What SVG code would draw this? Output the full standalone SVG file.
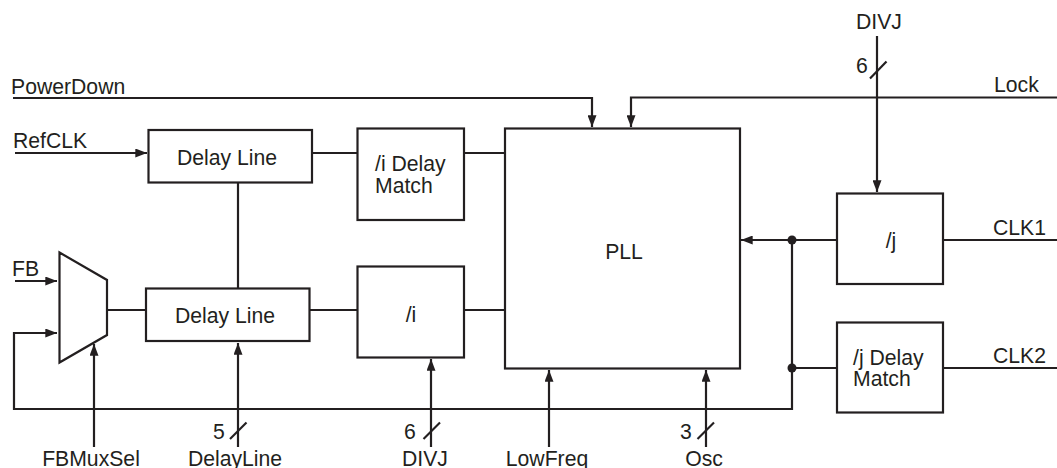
<svg xmlns="http://www.w3.org/2000/svg" width="1057" height="468" viewBox="0 0 1057 468">
<style>
.ln{fill:none;stroke:#231f20;stroke-width:2.2}
.bx{fill:#fff;stroke:#231f20;stroke-width:2.2}
.t{font-family:"Liberation Sans",Arial,sans-serif;font-size:21.2px;fill:#231f20}
.m{text-anchor:middle}
.dot{fill:#231f20}
</style>
<defs>
<marker id="ah" viewBox="0 0 13 10" refX="13" refY="5" markerWidth="13" markerHeight="9" markerUnits="userSpaceOnUse" orient="auto">
<path d="M0,0 L13,5 L0,10 Z" fill="#231f20"/>
</marker>
</defs>
<rect width="1057" height="468" fill="#fff"/>
<g id="connectors">
<path class="ln" d="M13,98 H592 V127" marker-end="url(#ah)"/>
<path class="ln" d="M1057,97.5 H631 V127" marker-end="url(#ah)"/>
<path class="ln" d="M877,36 V192" marker-end="url(#ah)"/>
<path class="ln" d="M870,78.5 L886.5,61.5"/>
<path class="ln" d="M943,240 H1057"/>
<path class="ln" d="M837,240 H741" marker-end="url(#ah)"/>
<path class="ln" d="M792,240 V409 H14 V333 H57" marker-end="url(#ah)"/>
<path class="ln" d="M792,368 H837"/>
<path class="ln" d="M943,368 H1057"/>
<circle class="dot" cx="792" cy="240" r="4.5"/>
<circle class="dot" cx="792" cy="368" r="4.5"/>
<path class="ln" d="M15,153 H147" marker-end="url(#ah)"/>
<path class="ln" d="M312,153 H357"/>
<path class="ln" d="M464,153 H505"/>
<path class="ln" d="M238,183 V288"/>
<path class="ln" d="M15,281 H57" marker-end="url(#ah)"/>
<path class="ln" d="M107,310 H146"/>
<path class="ln" d="M309,310 H357"/>
<path class="ln" d="M464,310 H505"/>
<path class="ln" d="M94,447 V344" marker-end="url(#ah)"/>
<path class="ln" d="M238,447 V343" marker-end="url(#ah)"/>
<path class="ln" d="M230,439 L246.5,422.5"/>
<path class="ln" d="M431,447 V359" marker-end="url(#ah)"/>
<path class="ln" d="M423.5,439 L440,422.5"/>
<path class="ln" d="M549,447 V370" marker-end="url(#ah)"/>
<path class="ln" d="M706,447 V370" marker-end="url(#ah)"/>
<path class="ln" d="M697.5,439 L714,422.5"/>
</g>
<g id="labels">
<text class="t" x="11" y="94">PowerDown</text>
<text class="t" x="13" y="148">RefCLK</text>
<text class="t" x="12" y="276">FB</text>
<text class="t" x="994" y="92">Lock</text>
<text class="t" x="856" y="29">DIVJ</text>
<text class="t" x="856" y="73">6</text>
<text class="t" x="993" y="235">CLK1</text>
<text class="t" x="993" y="363">CLK2</text>
<text class="t m" x="91" y="466">FBMuxSel</text>
<text class="t" x="213" y="439">5</text>
<text class="t m" x="235" y="466">DelayLine</text>
<text class="t" x="404" y="439">6</text>
<text class="t m" x="425" y="466">DIVJ</text>
<text class="t m" x="547" y="466">LowFreq</text>
<text class="t" x="680" y="439">3</text>
<text class="t m" x="704" y="466">Osc</text>
</g>
<g id="mux"><path class="bx" d="M59.5,252.5 L107,280 L107,335 L59.5,362.5 Z"/></g>
<g id="delayline1"><rect class="bx" x="148.5" y="130" width="163.5" height="52.5"/><text class="t m" x="227" y="165">Delay Line</text></g>
<g id="delayline2"><rect class="bx" x="146" y="288.5" width="163.5" height="52.5"/><text class="t m" x="225" y="323">Delay Line</text></g>
<g id="idelaymatch"><rect class="bx" x="357.5" y="128.5" width="106.5" height="91.5"/><text class="t" x="375" y="171">/i Delay</text><text class="t" x="375" y="192.5">Match</text></g>
<g id="idiv"><rect class="bx" x="357.5" y="266.5" width="106.5" height="91"/><text class="t m" x="411" y="322">/i</text></g>
<g id="pll"><rect class="bx" x="505" y="128.5" width="235" height="240"/><text class="t m" x="624" y="259">PLL</text></g>
<g id="jdiv"><rect class="bx" x="837" y="193.5" width="106" height="90.5"/><text class="t m" x="891" y="248">/j</text></g>
<g id="jdelaymatch"><rect class="bx" x="837" y="322.5" width="106" height="90"/><text class="t" x="853" y="365">/j Delay</text><text class="t" x="853" y="386">Match</text></g>
</svg>
